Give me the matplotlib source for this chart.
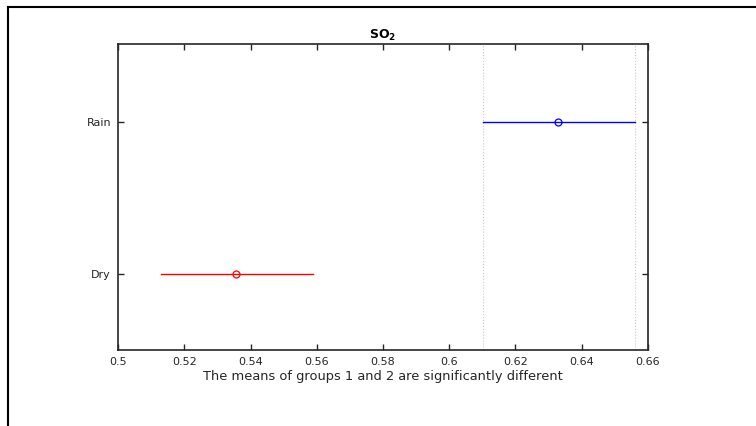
import matplotlib.pyplot as plt
from matplotlib.lines import Line2D

plt.rcParams['font.family'] = ['DejaVu Sans']

# group estimates and comparison intervals
groups = ["Dry", "Rain"]
means = [0.5356, 0.6328]
lower = [0.5131, 0.6102]
upper = [0.5589, 0.6561]
colors = ["red", "blue"]
xticks = [0.5, 0.52, 0.54, 0.56, 0.58, 0.6, 0.62, 0.64, 0.66]
xtick_labels = ["0.5", "0.52", "0.54", "0.56", "0.58", "0.6", "0.62", "0.64", "0.66"]

fig = plt.figure(figsize=(7.56, 4.26), dpi=100)
ax = fig.add_axes([118 / 756, 1 - 350 / 426, (648 - 118) / 756, (350 - 44) / 426])

# reference lines at the selected group's interval
sel = 1
for v in (lower[sel], upper[sel]):
    ax.axvline(v, color="#c8c8c8", linestyle=":", linewidth=0.8, zorder=1)

for i, g in enumerate(groups):
    y = i + 1
    ax.plot([lower[i], upper[i]], [y, y], color=colors[i], linewidth=1.0, zorder=2)
    ax.plot(means[i], y, marker="o", markersize=5, markerfacecolor="none",
            markeredgecolor=colors[i], markeredgewidth=0.9, zorder=3)

ax.set_xlim(0.5, 0.66)
ax.set_ylim(0.5, 2.513)
ax.set_xticks(xticks)
ax.set_xticklabels(xtick_labels)
ax.set_yticks([1, 2])
ax.set_yticklabels(groups)
ax.tick_params(direction="in", top=True, right=True, length=4, width=1.0,
               labelsize=8, colors="#262626", pad=5)
for s in ax.spines.values():
    s.set_linewidth(1.2)
    s.set_color("#262626")

ax.set_title("SO$_\\mathbf{2}$", fontsize=9, fontweight="bold", pad=4)
ax.set_xlabel("The means of groups 1 and 2 are significantly different",
              fontsize=9.4, color="#262626", labelpad=2)

# figure frame (left and top edges)
fig.add_artist(Line2D([8 / 756, 8 / 756], [0, 1 - 7 / 426], color="black",
                      linewidth=1.5, transform=fig.transFigure))
fig.add_artist(Line2D([8 / 756, 1], [1 - 7 / 426, 1 - 7 / 426], color="black",
                      linewidth=1.5, transform=fig.transFigure))

fig.savefig("out.png", dpi=100)
